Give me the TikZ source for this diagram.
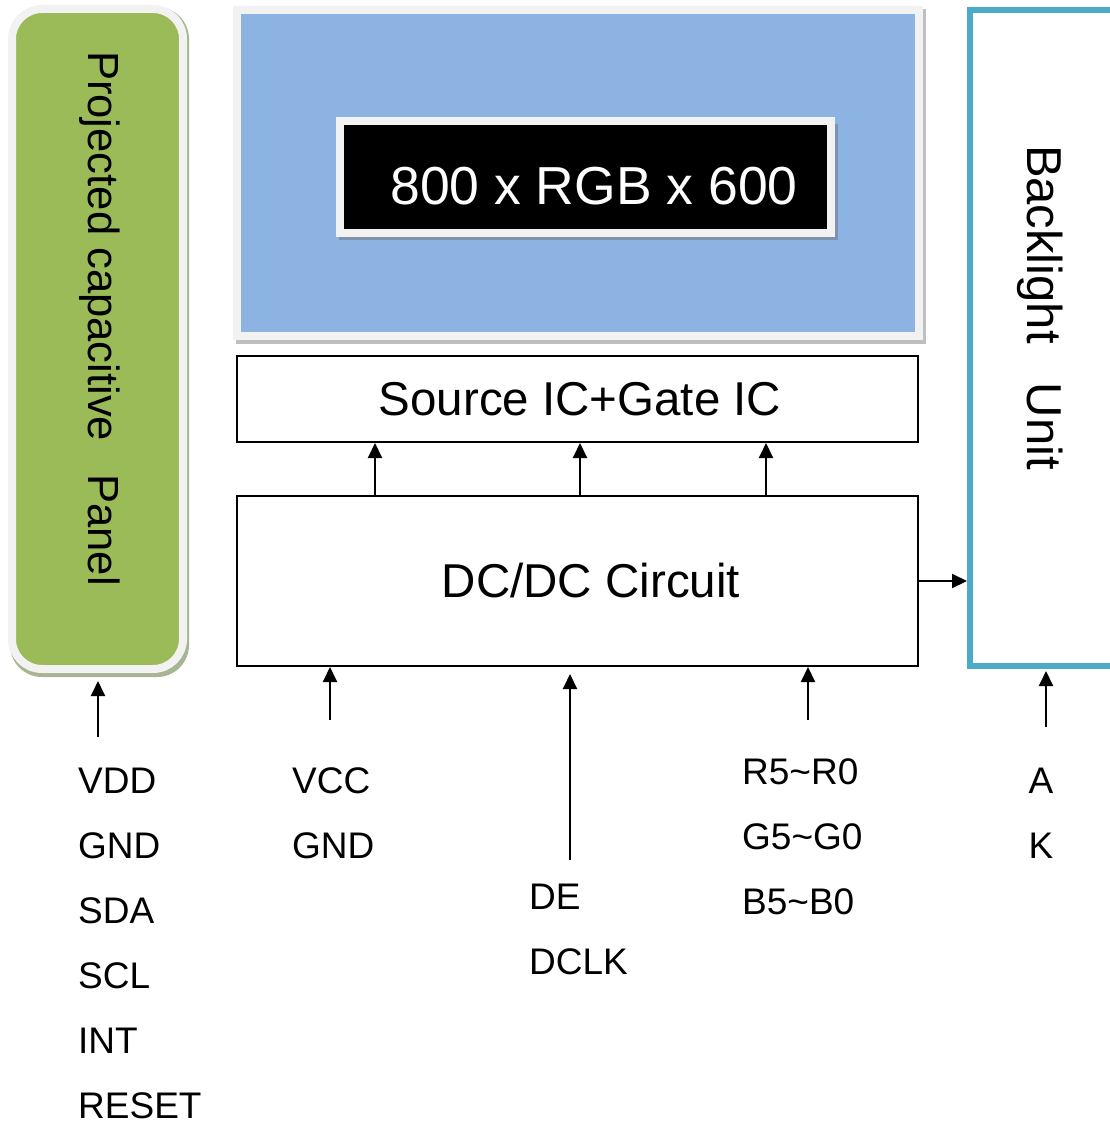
\documentclass[tikz,border=0pt]{standalone}
\usepackage{fontspec}
\setmainfont{Liberation Sans}
\usetikzlibrary{arrows.meta}
\definecolor{frame}{HTML}{F2F2F2}
\definecolor{panelgreen}{HTML}{9BBB59}
\definecolor{greenshadow}{HTML}{A7B592}
\definecolor{screenblue}{HTML}{8DB3E2}
\definecolor{blueshadow}{HTML}{BFBFBF}
\definecolor{darkshadow}{HTML}{7F93AE}
\definecolor{cyanline}{HTML}{4BACC6}
\tikzset{
  arr/.style={line width=2pt, -{Triangle[length=15pt,width=14pt]}},
  icbox/.style={draw=black, line width=2pt, fill=white, inner sep=0pt},
  sig/.style={font=\fontsize{37}{44}\selectfont, anchor=base west, inner sep=0pt},
  big/.style={font=\fontsize{47.5}{56}\selectfont, inner sep=0pt},
}
\begin{document}
\begin{tikzpicture}[x=1pt,y=-1pt]
\useasboundingbox (0,0) rectangle (1109,1124);
% touch panel
\fill[greenshadow, rounded corners=32pt] (10,7) rectangle (189,677);
\node[draw=frame, line width=8pt, fill=panelgreen, rounded corners=30pt, inner sep=0pt,
  minimum width=171pt, minimum height=660pt] (panel) at (97.5,339) {};
\node[rotate=-90, font=\fontsize{43.6}{50}\selectfont, inner sep=0pt] (paneltext) at (100,318.5)
  {Projected capacitive\hspace{33pt}Panel};
% screen
\fill[blueshadow] (236,9) rectangle (926,344);
\node[draw=frame, line width=8pt, fill=screenblue, inner sep=0pt,
  minimum width=682pt, minimum height=326pt] (screen) at (578,173) {};
\fill[darkshadow] (339,124) rectangle (838,240);
\node[draw=frame, line width=8pt, fill=black, inner sep=0pt,
  minimum width=491pt, minimum height=112pt] (res) at (585.5,177) {};
\node[font=\fontsize{53.5}{60}\selectfont, text=white, inner sep=0pt] (restext) at (594,186) {800 x RGB x 600};
% IC boxes
\node[icbox, minimum width=681pt, minimum height=86pt, big] (src) at (577.5,399) {\hspace{5pt}Source IC+Gate IC};
\node[icbox, minimum width=681pt, minimum height=170pt, big] (dc) at (577.5,581) {\hspace{27pt}DC/DC Circuit};
% backlight
\node[draw=cyanline, line width=6pt, inner sep=0pt, minimum width=145pt, minimum height=656pt] (bl) at (1042.5,338) {};
\node[rotate=-90, font=\fontsize{49}{56}\selectfont, inner sep=0pt] (bltext) at (1040,307.5) {Backlight\hspace{39pt}Unit};
% internal arrows
\coordinate (c1) at (375,0);
\coordinate (c2) at (580,0);
\coordinate (c3) at (766,0);
\draw[arr] (dc.north -| c1) -- (src.south -| c1);
\draw[arr] (dc.north -| c2) -- (src.south -| c2);
\draw[arr] (dc.north -| c3) -- (src.south -| c3);
\draw[arr] (dc.east) -- (bl.west |- dc.east);
% input arrows
\coordinate (ptail) at (98,737);
\coordinate (vtail) at (330,720);
\coordinate (dtail) at (570,860);
\coordinate (rtail) at (808,720);
\coordinate (atail) at (1046,727);
\draw[arr, shorten >=8pt] (ptail) -- (ptail |- panel.south);
\draw[arr] (vtail) -- (vtail |- dc.south);
\draw[arr, shorten >=7pt] (dtail) -- (dtail |- dc.south);
\draw[arr] (rtail) -- (rtail |- dc.south);
\draw[arr, shorten >=2pt] (atail) -- (atail |- bl.south);
% labels
\node[sig] (vdd) at (78,793) {VDD};
\node[sig] (gnd1) at (78,858) {GND};
\node[sig] (sda) at (78,923) {SDA};
\node[sig] (scl) at (78,988) {SCL};
\node[sig] (int) at (78,1053) {INT};
\node[sig] (rst) at (78,1118) {RESET};
\node[sig] (vcc) at (292,793) {VCC};
\node[sig] (gnd2) at (292,858) {GND};
\node[sig] (de) at (529,909) {DE};
\node[sig] (dclk) at (529,974) {DCLK};
\node[sig] (rr) at (742,784) {R5\char`~R0};
\node[sig] (gg) at (742,849) {G5\char`~G0};
\node[sig] (bb) at (742,914) {B5\char`~B0};
\node[sig, anchor=base] (a) at (1041,793) {A};
\node[sig, anchor=base] (k) at (1041,858) {K};
\end{tikzpicture}
\end{document}
